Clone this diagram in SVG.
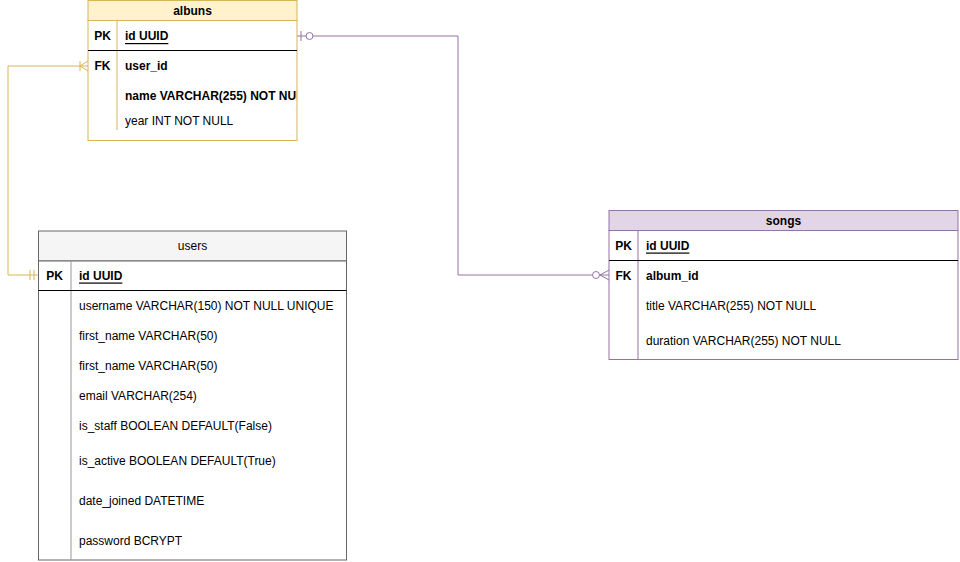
<svg xmlns="http://www.w3.org/2000/svg" width="960" height="562" viewBox="0 0 960 562">
<style>
text{font-family:"Liberation Sans",Arial,sans-serif;font-size:12px;fill:#000;dominant-baseline:central}
.b{font-weight:bold}
.u{text-decoration:underline}
.c{text-anchor:middle}
.sep{stroke:#000;stroke-width:1}
</style>
<defs>
<clipPath id="clipA"><rect x="88" y="0" width="209" height="140"/></clipPath>
</defs>
<rect width="960" height="562" fill="#fff"/>
<g id="connectors" fill="none">
<g stroke="#d6b656">
<path d="M38 275 H8 V66 H88"/>
<path d="M30 270 V280 M34 270 V280"/>
<path d="M80 61 V71 M80 66 L88 61 M80 66 L88 71"/>
</g>
<g stroke="#9673a6">
<path d="M297 36 H458 V275 H592"/>
<path d="M301 31 V41"/>
<circle cx="309.5" cy="36" r="3.5" fill="#fff"/>
<circle cx="596" cy="275" r="3.5" fill="#fff"/>
<path d="M600 275 H609 M600 275 L609 270 M600 275 L609 280"/>
</g>
</g>
<g id="albuns">
<rect x="88" y="0.5" width="209" height="20" fill="#fff2cc" stroke="#d6b656"/>
<rect x="88" y="20.5" width="209" height="120" fill="#fff" stroke="#d6b656"/>
<line x1="117" y1="20.5" x2="117" y2="130" stroke="#d6b656"/>
<line class="sep" x1="88" y1="50.5" x2="297" y2="50.5"/>
<text class="b c" x="192.5" y="10.5">albuns</text>
<text class="b c" x="102.5" y="36">PK</text>
<text class="b u" x="125" y="36">id UUID</text>
<text class="b c" x="102.5" y="66">FK</text>
<text class="b" x="125" y="66">user_id</text>
<g clip-path="url(#clipA)"><text class="b" x="125" y="96">name VARCHAR(255) NOT NULL</text></g>
<text x="125" y="121">year INT NOT NULL</text>
</g>
<g id="users">
<rect x="38.5" y="231" width="308" height="30" fill="#f5f5f5" stroke="#666666"/>
<rect x="38.5" y="261" width="308" height="299" fill="#fff" stroke="#666666"/>
<line x1="71" y1="261" x2="71" y2="560" stroke="#999999"/>
<line class="sep" x1="38.5" y1="290.5" x2="346.5" y2="290.5"/>
<text class="c" x="192.5" y="246" fill="#333">users</text>
<text class="b c" x="54.5" y="275.5">PK</text>
<text class="b u" x="79" y="275.5">id UUID</text>
<text x="79" y="305.5">username VARCHAR(150) NOT NULL UNIQUE</text>
<text x="79" y="335.5">first_name VARCHAR(50)</text>
<text x="79" y="365.5">first_name VARCHAR(50)</text>
<text x="79" y="395.5">email VARCHAR(254)</text>
<text x="79" y="425.5">is_staff BOOLEAN DEFAULT(False)</text>
<text x="79" y="460.5">is_active BOOLEAN DEFAULT(True)</text>
<text x="79" y="500.5">date_joined DATETIME</text>
<text x="79" y="540.5">password BCRYPT</text>
</g>
<g id="songs">
<rect x="609" y="210.5" width="349" height="20" fill="#e1d5e7" stroke="#9673a6"/>
<rect x="609" y="230.5" width="349" height="129" fill="#fff" stroke="#9673a6"/>
<line x1="638" y1="230.5" x2="638" y2="359.5" stroke="#9673a6"/>
<line class="sep" x1="609" y1="260.5" x2="958" y2="260.5"/>
<text class="b c" x="783.5" y="220.5">songs</text>
<text class="b c" x="623.5" y="245.5">PK</text>
<text class="b u" x="646" y="245.5">id UUID</text>
<text class="b c" x="623.5" y="275.5">FK</text>
<text class="b" x="646" y="275.5">album_id</text>
<text x="646" y="306">title VARCHAR(255) NOT NULL</text>
<text x="646" y="340.5">duration VARCHAR(255) NOT NULL</text>
</g>
</svg>
